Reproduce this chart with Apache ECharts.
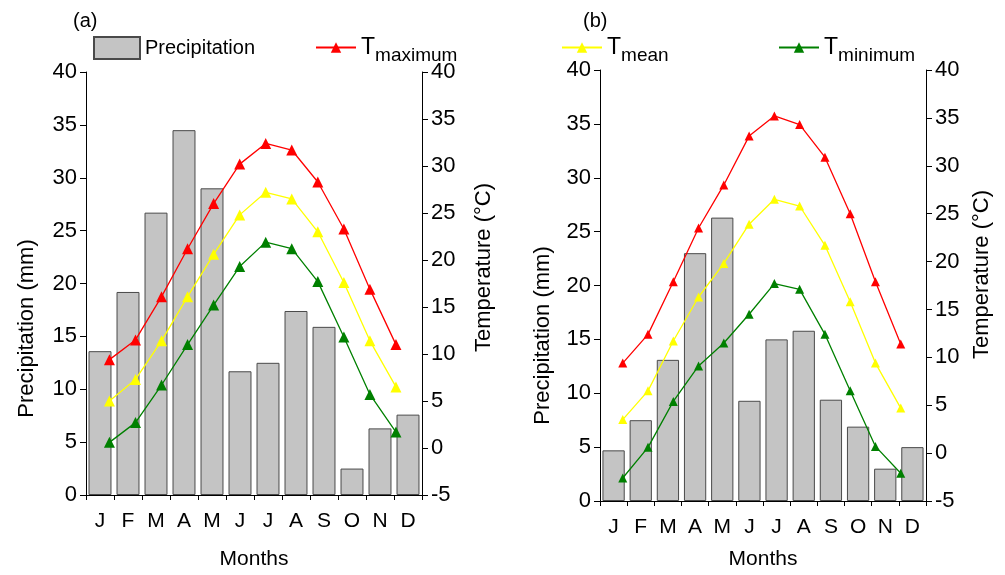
<!DOCTYPE html>
<html>
<head>
<meta charset="utf-8">
<script src="https://cdn.jsdelivr.net/npm/echarts@6/dist/echarts.min.js"></script>
<style>
  html, body { margin: 0; padding: 0; background: #fff; }
  #chart { width: 1005px; height: 575px; }
</style>
</head>
<body>
<div id="chart"></div>
<script>
// month labels and month index (position for the temperature lines)
const months = ['J', 'F', 'M', 'A', 'M', 'J', 'J', 'A', 'S', 'O', 'N', 'D'];
const monthNo = [1, 2, 3, 4, 5, 6, 7, 8, 9, 10, 11, 12];
const precipTicks = [0, 40, 5];   // min, max, step
const tempTicks = [-5, 40, 5];

// panel (a)
const precipA = [13.6, 19.2, 26.7, 34.5, 29.0, 11.7, 12.5, 17.4, 15.9, 2.5, 6.3, 7.6];
const tmaxA = [9.4, 11.5, 16.1, 21.2, 26.0, 30.2, 32.4, 31.7, 28.3, 23.3, 16.9, 11.0];
const tmeanA = [5.0, 7.3, 11.4, 16.1, 20.6, 24.8, 27.2, 26.5, 23.0, 17.6, 11.4, 6.5];
const tminA = [0.6, 2.7, 6.7, 11.0, 15.2, 19.3, 21.9, 21.2, 17.7, 11.8, 5.7, 1.7];

// panel (b)
const precipB = [4.7, 7.5, 13.1, 23.0, 26.3, 9.3, 15.0, 15.8, 9.4, 6.9, 3.0, 5.0];
const tmaxB = [9.4, 12.4, 17.9, 23.5, 28.0, 33.1, 35.2, 34.3, 30.9, 25.0, 17.9, 11.4];
const tmeanB = [3.5, 6.5, 11.7, 16.3, 19.8, 23.9, 26.5, 25.8, 21.7, 15.8, 9.4, 4.7];
const tminB = [-2.6, 0.6, 5.4, 9.1, 11.5, 14.5, 17.7, 17.1, 12.4, 6.5, 0.7, -2.1];

const FONT = "'Liberation Sans', Arial, sans-serif";
const chart = echarts.init(document.getElementById('chart'));

const pair = arr => arr.map((v, i) => [monthNo[i], v]);

function catAxis(grid, gap) {
    return {
        type: 'category',
        gridIndex: grid,
        data: months,
        boundaryGap: true,
        axisLine: { lineStyle: { color: '#000', width: 1 } },
        axisTick: { show: true, length: 5, lineStyle: { color: '#000' } },
        axisLabel: { color: '#000', fontSize: 21, fontFamily: FONT, margin: 16, interval: 0 },
        name: 'Months',
        nameLocation: 'middle',
        nameGap: gap,
        nameTextStyle: { color: '#000', fontSize: 21, fontFamily: FONT }
    };
}

function posAxis(grid) {
    return { type: 'value', gridIndex: grid, min: 0.1, max: 13, show: false };
}

function yAxisDef(grid, pos, ticks, name, gap, pad) {
    return {
        type: 'value',
        gridIndex: grid,
        position: pos,
        min: ticks[0],
        max: ticks[1],
        interval: ticks[2],
        splitLine: { show: false },
        axisLine: { show: true, lineStyle: { color: '#000', width: 1 } },
        axisTick: { show: true, length: 6, lineStyle: { color: '#000' } },
        axisLabel: { color: '#000', fontSize: 22, fontFamily: FONT, margin: 9 },
        name: name,
        nameLocation: 'middle',
        nameRotate: 90,
        nameGap: gap,
        nameTextStyle: { color: '#000', fontSize: 22, fontFamily: FONT, padding: pad }
    };
}

function barSeries(xi, yi, data) {
    return {
        name: 'Precipitation',
        type: 'bar',
        xAxisIndex: xi,
        yAxisIndex: yi,
        barCategoryGap: '18%',
        itemStyle: { color: '#c4c4c4', borderColor: '#4a4a4a', borderWidth: 1 },
        data: data
    };
}

function lineSeries(name, color, xi, yi, data, size) {
    return {
        name: name,
        type: 'line',
        xAxisIndex: xi,
        yAxisIndex: yi,
        symbol: 'triangle',
        symbolSize: size,
        z: 3,
        lineStyle: { color: color, width: 1.3 },
        itemStyle: { color: color },
        data: pair(data)
    };
}

const subRich = {
    t: { fontSize: 23, fontFamily: FONT, color: '#000' },
    s: { fontSize: 19, fontFamily: FONT, color: '#000', padding: [16, 0, 0, 0] }
};
const subFmt = name => '{t|T}{s|' + name.slice(2) + '}';

function lineLegend(name, left) {
    return {
        data: [name],
        left: left,
        top: 36,
        padding: 0,
        itemWidth: 40,
        itemHeight: 13,
        itemGap: 6,
        formatter: subFmt,
        textStyle: { rich: subRich }
    };
}

chart.setOption({
    animation: false,
    title: [
        { text: '(a)', left: 73, top: 11, padding: 0, textStyle: { fontSize: 20, fontWeight: 'normal', fontFamily: FONT, color: '#000' } },
        { text: '(b)', left: 583, top: 11, padding: 0, textStyle: { fontSize: 20, fontWeight: 'normal', fontFamily: FONT, color: '#000' } }
    ],
    legend: [
        {
            data: [{ name: 'Precipitation', icon: 'rect' }],
            left: 93,
            top: 36,
            padding: 0,
            itemWidth: 46,
            itemHeight: 22,
            itemGap: 6,
            textStyle: { fontSize: 20, fontFamily: FONT, color: '#000' }
        },
        lineLegend('T_maximum', 315),
        lineLegend('T_mean', 561),
        lineLegend('T_minimum', 778)
    ],
    grid: [
        { left: 86, top: 72, width: 336, height: 428 },
        { left: 600, top: 70, width: 326, height: 438 }
    ],
    xAxis: [catAxis(0, 54), posAxis(0), catAxis(1, 48), posAxis(1)],
    yAxis: [
        yAxisDef(0, 'left', precipTicks, 'Precipitation (mm)', 48, [0, 90, 0, 0]),
        yAxisDef(0, 'right', tempTicks, 'Temperature (°C)', 51, [0, 0, 0, 32]),
        yAxisDef(1, 'left', precipTicks, 'Precipitation (mm)', 46, [0, 100, 0, 0]),
        yAxisDef(1, 'right', tempTicks, 'Temperature (°C)', 45, [0, 0, 0, 22])
    ],
    series: [
        barSeries(0, 0, precipA),
        lineSeries('T_maximum', '#ff0000', 1, 1, tmaxA, 11),
        lineSeries('T_mean', '#ffff00', 1, 1, tmeanA, 11),
        lineSeries('T_minimum', '#008000', 1, 1, tminA, 11),
        barSeries(2, 2, precipB),
        lineSeries('T_maximum', '#ff0000', 3, 3, tmaxB, 9),
        lineSeries('T_mean', '#ffff00', 3, 3, tmeanB, 9),
        lineSeries('T_minimum', '#008000', 3, 3, tminB, 9)
    ]
});
</script>
</body>
</html>
